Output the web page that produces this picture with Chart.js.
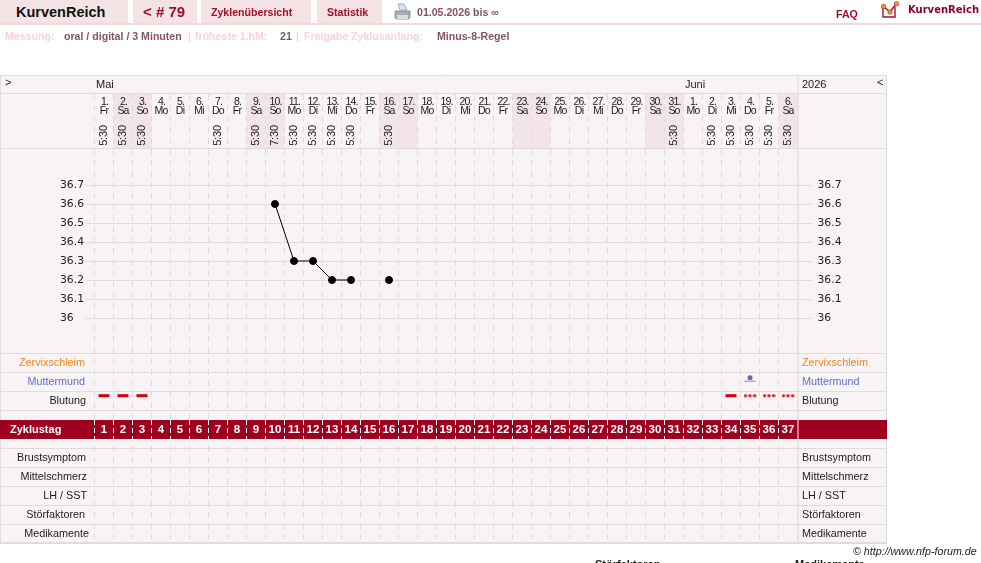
<!DOCTYPE html>
<html lang="de">
<head>
<meta charset="utf-8">
<title>KurvenReich</title>
<script src="https://cdn.jsdelivr.net/npm/chart.js@4"></script>
<style>
  html, body { margin: 0; padding: 0; width: 981px; height: 563px; overflow: hidden; background: #fff; }
  body { position: relative; font-family: "Liberation Sans", Arial, sans-serif; }
  #curve { position: absolute; left: 0; top: 0; }
  .tab { position: absolute; top: 0; height: 23px; background: #f4e3e5; }
  .t { position: absolute; white-space: nowrap; font-weight: bold; }
  .nav { color: #a0102a; font-size: 10.6px; top: 6px; }
  .info { top: 30px; font-size: 10.6px; color: #85565c; }
  .pale { color: #f9d3d6; }
  #rule { position: absolute; left: 0; top: 23px; width: 981px; height: 2px; background: #f3d9dc; }
  svg { position: absolute; }
</style>
</head>
<body>
<canvas id="curve" width="981" height="563"></canvas>

<div class="tab" style="left:0;width:128px"></div>
<div class="tab" style="left:133px;width:64px"></div>
<div class="tab" style="left:201px;width:110px"></div>
<div class="tab" style="left:317px;width:65px"></div>
<div id="rule"></div>
<span class="t" style="left:16px;top:4px;font-size:14.5px;color:#111">KurvenReich</span>
<span class="t" style="left:143px;top:3px;font-size:15px;color:#a0102a">&lt; # 79</span>
<span class="t nav" style="left:211px">Zyklenübersicht</span>
<span class="t nav" style="left:327px">Statistik</span>
<svg style="left:394px;top:3px" width="17" height="18" viewBox="0 0 17 18">
  <path d="M4 1h6l3 6H6z" fill="#dfe7ee" stroke="#8a98a6" stroke-width=".8"/>
  <path d="M1 8h15v6a2 2 0 0 1-2 2H3a2 2 0 0 1-2-2z" fill="#a7adb3" stroke="#7d8388" stroke-width=".8"/>
  <rect x="3" y="12" width="11" height="4" fill="#d9dcdf"/>
</svg>
<span class="t" style="left:417px;top:6px;font-size:10.6px;color:#85565c">01.05.2026 bis ∞</span>
<span class="t nav" style="left:836px;top:8px">FAQ</span>
<svg style="left:881px;top:1px" width="20" height="18" viewBox="0 0 20 18">
  <path d="M2 6v10h12V6" fill="none" stroke="#a0102a" stroke-width="1.4"/>
  <path d="M2 5l7 6 6-8" fill="none" stroke="#a0102a" stroke-width="1.4"/>
  <circle cx="2.5" cy="5.5" r="2.3" fill="#f09020" stroke="#a0102a" stroke-width=".5"/>
  <circle cx="9" cy="11" r="2.3" fill="#f09020" stroke="#a0102a" stroke-width=".5"/>
  <circle cx="15.5" cy="2.8" r="2.3" fill="#f09020" stroke="#a0102a" stroke-width=".5"/>
</svg>
<span class="t" style="left:908px;top:4px;font:bold 10px 'DejaVu Sans';color:#900020">KurvenReich</span>

<span class="t info pale" style="left:5px">Messung:</span>
<span class="t info" style="left:64px">oral / digital / 3 Minuten</span>
<span class="t info pale" style="left:188px">|</span>
<span class="t info pale" style="left:195px">früheste 1.hM:</span>
<span class="t info" style="left:280px">21</span>
<span class="t info pale" style="left:296px">|</span>
<span class="t info pale" style="left:304px">Freigabe Zyklusanfang:</span>
<span class="t info" style="left:437px">Minus-8-Regel</span>

<span class="t" style="left:853px;top:545px;font-size:10.7px;font-weight:normal;font-style:italic;color:#222">© http://www.nfp-forum.de</span>
<span class="t" style="left:595px;top:558px;font-size:11px;color:#222">Störfaktoren</span>
<span class="t" style="left:795px;top:558px;font-size:11px;color:#222">Medikamente</span>

<script>
const cycleDays = ['1','2','3','4','5','6','7','8','9','10','11','12','13','14','15','16','17','18','19','20','21','22','23','24','25','26','27','28','29','30','31','32','33','34','35','36','37'];
const dates = ['1.','2.','3.','4.','5.','6.','7.','8.','9.','10.','11.','12.','13.','14.','15.','16.','17.','18.','19.','20.','21.','22.','23.','24.','25.','26.','27.','28.','29.','30.','31.','1.','2.','3.','4.','5.','6.'];
const weekdays = ['Fr','Sa','So','Mo','Di','Mi','Do','Fr','Sa','So','Mo','Di','Mi','Do','Fr','Sa','So','Mo','Di','Mi','Do','Fr','Sa','So','Mo','Di','Mi','Do','Fr','Sa','So','Mo','Di','Mi','Do','Fr','Sa'];
const times = ['5:30','5:30','5:30',null,null,null,'5:30',null,'5:30','7:30','5:30','5:30','5:30','5:30',null,'5:30',null,null,null,null,null,null,null,null,null,null,null,null,null,null,'5:30',null,'5:30','5:30','5:30','5:30','5:30'];
const temps = [null,null,null,null,null,null,null,null,null,36.6,36.3,36.3,36.2,36.2,null,36.2,null,null,null,null,null,null,null,null,null,null,null,null,null,null,null,null,null,null,null,null,null];
const tempTicks = [36, 36.1, 36.2, 36.3, 36.4, 36.5, 36.6, 36.7];
const bleedDays = ['1','2','3','34'];
const spottingDays = ['35','36','37'];
const cervixDays = ['35'];
const upperRows = ['Zervixschleim','Muttermund','Blutung'];
const lowerRows = ['Brustsymptom','Mittelschmerz','LH / SST','Störfaktoren','Medikamente'];

// table geometry, the temperature and row scales below are derived from it
const rowH = 19, gridTop = 94, gridBottom = 543, gridLeft = 94.5, gridRight = 797.5, tableRight = 887;
const upperTop = 353.5, lowerTop = 448, bandTop = 420, bandBottom = 439;
const tempMin = 36 - (gridBottom - 318) / (rowH * 10);
const tempMax = 36.7 + (185 - gridTop) / (rowH * 10);
// the captions in the left column do not share one right edge
const upperEdge = [85, 85, 86], lowerEdge = [86, 87, 87, 85, 89];

const grey = '#dfdcdc', ink = '#1c1c1c';
const ARIAL = '"Liberation Sans", Arial, sans-serif';

// three small dots used for the spotting days
function spottingSymbol() {
  const c = document.createElement('canvas');
  c.width = 13; c.height = 5;
  const g = c.getContext('2d');
  g.fillStyle = '#e00012';
  [2, 6.5, 11].forEach(x => { g.beginPath(); g.arc(x, 2.5, 1.6, 0, Math.PI * 2); g.fill(); });
  return c;
}

function text(ctx, str, x, y, font, color, align) {
  ctx.font = font;
  ctx.fillStyle = color;
  ctx.textAlign = align || 'left';
  ctx.textBaseline = 'middle';
  ctx.fillText(str, x, y);
}

function hline(ctx, y, x0, x1, color) {
  ctx.strokeStyle = color || grey;
  ctx.lineWidth = 1;
  ctx.beginPath();
  ctx.moveTo(x0, y);
  ctx.lineTo(x1, y);
  ctx.stroke();
}

const tablePlugin = {
  id: 'table',
  beforeDraw(chart) {
    const ctx = chart.ctx;
    ctx.save();
    ctx.fillStyle = '#f8f3f4';
    ctx.fillRect(0, 75, tableRight, gridBottom - 75);

    // weekend columns in the date header
    ctx.fillStyle = '#f3e4e7';
    weekdays.forEach((w, i) => {
      if (w === 'Sa' || w === 'So') ctx.fillRect(gridLeft + i * rowH, gridTop, rowH, 54);
    });

    [75.5, 93.5, 148.5, gridBottom - 0.5].forEach(y => hline(ctx, y, 0, tableRight));
    for (let i = 0; i < 4; i++) hline(ctx, upperTop + i * rowH, 0, tableRight);
    for (let i = 0; i <= 5; i++) hline(ctx, lowerTop + 0.5 + i * rowH, 0, tableRight);

    ctx.strokeStyle = grey;
    ctx.beginPath();
    [0.5, gridRight + 0.5, tableRight - 0.5].forEach(px => {
      ctx.moveTo(px, 75);
      ctx.lineTo(px, gridBottom);
    });
    ctx.stroke();
    ctx.restore();
  },
  afterDatasetsDraw(chart) {
    const ctx = chart.ctx, x = chart.scales.x;
    ctx.save();

    // month row
    text(ctx, '>', 5, 83, '11px ' + ARIAL, ink);
    text(ctx, 'Mai', 96, 85, '11px ' + ARIAL, ink);
    text(ctx, 'Juni', 685, 85, '11px ' + ARIAL, ink);
    text(ctx, '2026', 802, 85, '11px ' + ARIAL, ink);
    text(ctx, '<', 877, 83, '11px ' + ARIAL, ink);

    // date, weekday and measuring time per column
    ctx.letterSpacing = '-0.8px';
    dates.forEach((d, i) => {
      const px = x.getPixelForTick(i);
      text(ctx, d, px + 0.5, 102, '10.5px ' + ARIAL, ink, 'center');
      text(ctx, weekdays[i], px, 111, '10.5px ' + ARIAL, ink, 'center');
      if (times[i]) {
        ctx.save();
        ctx.translate(px, 135.5);
        ctx.rotate(-Math.PI / 2);
        ctx.letterSpacing = '-0.2px';
        text(ctx, times[i], 0, 0, '11px ' + ARIAL, ink, 'center');
        ctx.restore();
      }
    });
    ctx.letterSpacing = '0px';

    // symptom row captions on both sides
    const colors = ['#f08a24', '#5f6fd0', ink];
    upperRows.forEach((label, i) => {
      const y = upperTop + i * rowH + 10;
      text(ctx, label, upperEdge[i], y, '10.8px ' + ARIAL, colors[i], 'right');
      text(ctx, label, 802, y, '10.8px ' + ARIAL, colors[i]);
    });
    lowerRows.forEach((label, i) => {
      const y = lowerTop + i * rowH + 10.5;
      text(ctx, label, lowerEdge[i], y, '10.8px ' + ARIAL, ink, 'right');
      text(ctx, label, 802, y, '10.8px ' + ARIAL, ink);
    });

    // cycle day band
    ctx.fillStyle = '#a00020';
    ctx.fillRect(0, bandTop, tableRight, bandBottom - bandTop);
    ctx.strokeStyle = '#fff';
    ctx.lineWidth = 1;
    ctx.setLineDash([5, 3]);
    cycleDays.forEach((d, i) => {
      const lx = gridLeft + i * rowH;
      ctx.beginPath();
      ctx.moveTo(lx, bandTop);
      ctx.lineTo(lx, bandBottom);
      ctx.stroke();
      text(ctx, d, x.getPixelForTick(i), bandTop + 10, 'bold 11.5px ' + ARIAL, '#fff', 'center');
    });
    ctx.setLineDash([]);
    ctx.beginPath();
    ctx.moveTo(gridRight + 0.5, bandTop);
    ctx.lineTo(gridRight + 0.5, bandBottom);
    ctx.stroke();
    text(ctx, 'Zyklustag', 10, bandTop + 10, 'bold 11px ' + ARIAL, '#fff');
    ctx.restore();
  }
};

new Chart(document.getElementById('curve'), {
  type: 'line',
  data: {
    labels: cycleDays,
    datasets: [
      {
        data: temps,
        yAxisID: 'y',
        borderColor: '#000',
        backgroundColor: '#000',
        borderWidth: 1,
        pointRadius: 3.5,
        tension: 0,
        spanGaps: false
      },
      {
        data: bleedDays.map(d => ({ x: d, y: 2.22 })),
        yAxisID: 'yRows',
        showLine: false,
        pointStyle: 'line',
        pointRadius: 5.5,
        pointBorderWidth: 3,
        pointBorderColor: '#d8000f'
      },
      {
        data: spottingDays.map(d => ({ x: d, y: 2.22 })),
        yAxisID: 'yRows',
        showLine: false,
        pointStyle: spottingSymbol()
      },
      {
        data: cervixDays.map(d => ({ x: d, y: 1.28 })),
        yAxisID: 'yRows',
        showLine: false,
        pointRadius: 2.5,
        pointBorderWidth: 0,
        pointBackgroundColor: '#6a6aa8'
      },
      {
        data: cervixDays.map(d => ({ x: d, y: 1.46 })),
        yAxisID: 'yRows',
        showLine: false,
        pointStyle: 'line',
        pointRadius: 5.5,
        pointBorderWidth: 1,
        pointBorderColor: '#8b8fc0'
      }
    ]
  },
  options: {
    responsive: false,
    animation: false,
    events: [],
    layout: { padding: { left: 60, right: 981 - tableRight, top: gridTop, bottom: 563 - gridBottom } },
    plugins: { legend: { display: false }, tooltip: { enabled: false } },
    scales: {
      x: {
        type: 'category',
        offset: true,
        ticks: { display: false },
        afterFit: s => { s.height = 0; },
        grid: { offset: true, color: grey, drawTicks: false, tickLength: 0 },
        border: { display: false, dash: [6, 5] }
      },
      y: {
        position: 'left',
        min: tempMin,
        max: tempMax,
        afterBuildTicks: s => { s.ticks = tempTicks.map(v => ({ value: v })); },
        afterFit: s => { s.width = gridLeft - 60; },
        border: { display: false },
        grid: { color: grey, tickLength: 9 },
        ticks: {
          crossAlign: 'far',
          autoSkip: false,
          color: ink,
          font: { family: 'DejaVu Sans', size: 10.8 },
          callback: v => String(v)
        }
      },
      yRight: {
        position: 'right',
        min: tempMin,
        max: tempMax,
        afterBuildTicks: s => { s.ticks = tempTicks.map(v => ({ value: v })); },
        afterFit: s => { s.width = tableRight - gridRight; },
        border: { display: false },
        grid: { color: grey, drawOnChartArea: false, tickLength: 14 },
        ticks: {
          crossAlign: 'near',
          padding: 6,
          autoSkip: false,
          color: ink,
          font: { family: 'DejaVu Sans', size: 10.8 },
          callback: v => String(v)
        }
      },
      // one unit per table row, 0 is the top of the Zervixschleim row
      yRows: {
        display: false,
        reverse: true,
        min: (gridTop - upperTop) / rowH,
        max: (gridBottom - upperTop) / rowH
      }
    }
  },
  plugins: [tablePlugin]
});
</script>
</body>
</html>
